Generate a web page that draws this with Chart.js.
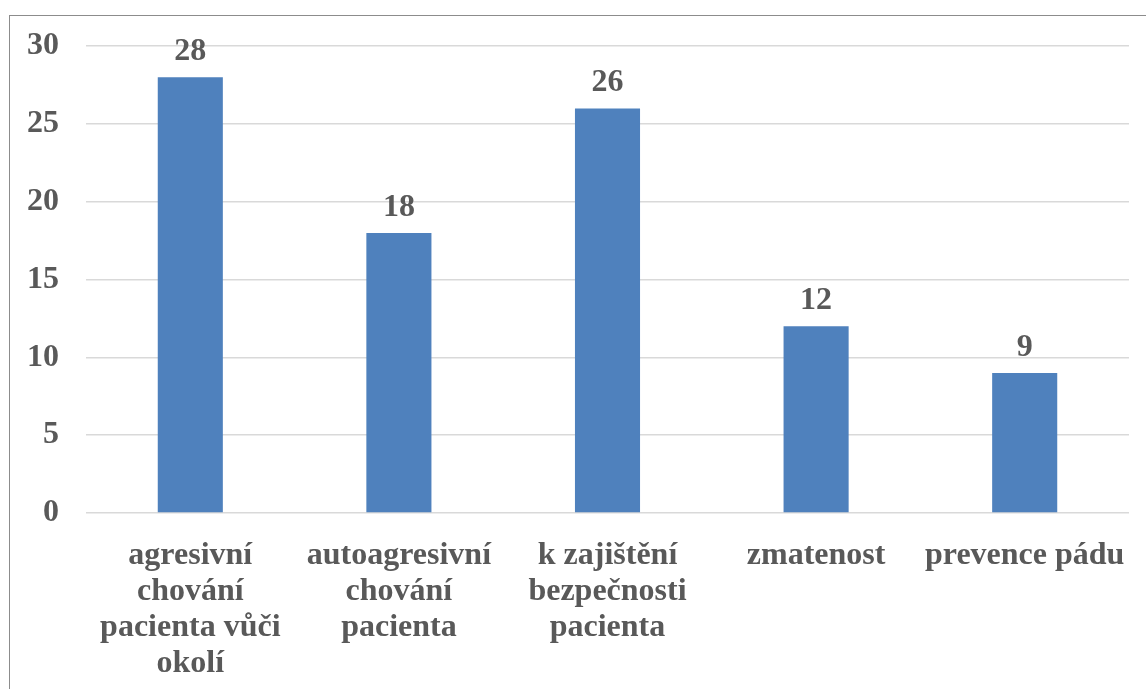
<!DOCTYPE html>
<html lang="cs">
  <head>
    <meta charset="UTF-8" />
    <title>Důvody omezení</title>
    <script src="https://cdn.jsdelivr.net/npm/chart.js@4.4.0/dist/chart.umd.min.js"></script>
    <style>
      html, body { margin: 0; padding: 0; background: #fff; }
      #wrap { position: relative; width: 1146px; height: 689px; overflow: hidden; }
      #frame {
        position: absolute; left: 9px; top: 15px; width: 1200px; height: 700px;
        border-left: 1px solid #8c8c8c; border-top: 1px solid #8c8c8c;
      }
      canvas { position: absolute; left: 0; top: 0; }
    </style>
  </head>
  <body>
    <div id="wrap">
      <div id="frame"></div>
      <canvas id="myChart" width="1146" height="689"></canvas>
    </div>

    <script>
// data
const categories = [
  ['agresivní', 'chování', 'pacienta vůči', 'okolí'],
  ['autoagresivní', 'chování', 'pacienta'],
  ['k zajištění', 'bezpečnosti', 'pacienta'],
  'zmatenost',
  'prevence pádu'
];
const counts = [28, 18, 26, 12, 9];
const yTicks = [0, 5, 10, 15, 20, 25, 30];

const textColor = '#595959';
const fontFamily = '"Liberation Serif", "Times New Roman", serif';

// value labels above the bars
const barLabels = {
  id: 'barLabels',
  afterDatasetsDraw(chart) {
    const ctx = chart.ctx;
    const meta = chart.getDatasetMeta(0);
    ctx.save();
    ctx.font = 'bold 32px ' + fontFamily;
    ctx.fillStyle = textColor;
    ctx.textAlign = 'center';
    ctx.textBaseline = 'alphabetic';
    meta.data.forEach((bar, i) => {
      ctx.fillText(String(counts[i]), bar.x, bar.y - 17);
    });
    ctx.restore();
  }
};

const ctx = document.getElementById('myChart').getContext('2d');
const myChart = new Chart(ctx, {
  type: 'bar',
  data: {
    labels: categories,
    datasets: [{
      data: counts,
      backgroundColor: '#4f81bd',
      borderWidth: 0,
      categoryPercentage: 1,
      barPercentage: 0.312
    }]
  },
  options: {
    responsive: false,
    animation: false,
    layout: { padding: { left: 0, top: 46, right: 17, bottom: 0 } },
    plugins: {
      legend: { display: false },
      tooltip: { enabled: false }
    },
    scales: {
      x: {
        afterFit: (scale) => { scale.height = 176; },
        grid: { display: false },
        border: { display: false },
        ticks: {
          color: textColor,
          padding: 17,
          maxRotation: 0,
          autoSkip: false,
          font: { family: fontFamily, size: 32, weight: 'bold', lineHeight: 1.12 }
        }
      },
      y: {
        min: 0,
        max: 30,
        afterFit: (scale) => { scale.width = 86; },
        afterBuildTicks: (scale) => { scale.ticks = yTicks.map(v => ({ value: v })); },
        border: { display: false },
        grid: { color: '#d9d9d9', lineWidth: 1.5, drawTicks: false },
        ticks: {
          color: textColor,
          padding: 27,
          font: { family: fontFamily, size: 32, weight: 'bold' }
        }
      }
    }
  },
  plugins: [barLabels]
});
    </script>
  </body>
</html>
